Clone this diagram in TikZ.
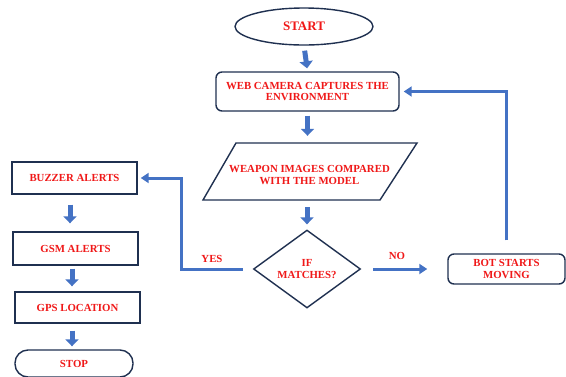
\documentclass[tikz,border=0pt]{standalone}
\usepackage{fontspec}
\setmainfont{Liberation Serif}
\usetikzlibrary{shapes.geometric,arrows.meta,calc}
\definecolor{navy}{HTML}{1F3050}
\definecolor{flow}{HTML}{4472C4}
\definecolor{txt}{HTML}{F01818}
\begin{document}
\begin{tikzpicture}[x=1pt,y=-1pt,
  base/.style={draw=navy,line width=1.4pt,text=txt,font=\fontsize{10.8}{11.5}\selectfont\bfseries,align=center,inner sep=2pt},
  rbox/.style={base,rounded corners=6pt},
  sbox/.style={base},
  blockarrow/.style={draw=flow,line width=5pt,-{Triangle[width=13pt,length=7pt]}},
  conn/.style={draw=flow,line width=3pt,-{Triangle[width=10pt,length=8pt]}},
  lab/.style={text=txt,font=\fontsize{10.8}{11.5}\selectfont\bfseries}]
\useasboundingbox (0,0) rectangle (566,376);
\fill[white] (0,0) rectangle (566,376);
% main column
\node[base,ellipse,minimum width=138pt,minimum height=37pt,font=\fontsize{13}{14}\selectfont\bfseries] (start) at (304,26.5) {START};
\node[rbox,minimum width=183pt,minimum height=39pt,inner sep=1pt] (cam) at (307.5,91.5) {WEB CAMERA CAPTURES THE\\ENVIRONMENT};
\node[text=txt,font=\fontsize{10.8}{11.5}\selectfont\bfseries,align=center,minimum width=176pt,minimum height=57pt] (cmp) at (309.5,171.5) {};
\node[text=txt,font=\fontsize{10.8}{11.5}\selectfont\bfseries,align=center] (cmptext) at (309.5,175) {WEAPON IMAGES COMPARED\\WITH THE MODEL};
\draw[navy,line width=1.4pt,line join=miter] ($(cmp.center)+(-106.5,28.5)$) -- ($(cmp.center)+(-73.5,-28.5)$) -- ($(cmp.center)+(107.5,-28.5)$) -- ($(cmp.center)+(70.5,28.5)$) -- cycle;
\node[base,diamond,minimum width=107pt,minimum height=74pt,inner sep=0pt] (dia) at (307,269) {IF\\MATCHES?};
\node[rbox,minimum width=117pt,minimum height=30pt] (bot) at (506.5,269) {BOT STARTS\\MOVING};
% left column
\node[sbox,minimum width=125pt,minimum height=32pt] (buz) at (74.5,178) {BUZZER ALERTS};
\node[sbox,minimum width=125pt,minimum height=33pt] (gsm) at (75.5,248.5) {GSM ALERTS};
\node[sbox,minimum width=125pt,minimum height=31pt] (gps) at (77.5,307.5) {GPS LOCATION};
\node[base,rounded corners=13pt,minimum width=118pt,minimum height=27pt] (stop) at (74,363.5) {STOP};
% block arrows
\draw[blockarrow,shorten <=5pt,shorten >=3pt] (start.south) -- (cam.north);
\draw[blockarrow,shorten <=4pt,shorten >=7pt] (cam.south) -- (cmp.north -| cam.south);
\draw[blockarrow,shorten <=7pt,shorten >=5pt] (cmp.south -| dia.north) -- (dia.north);
\draw[blockarrow,shorten <=10pt,shorten >=8pt] (buz.south -| 70,0) -- (gsm.north -| 70,0);
\draw[blockarrow,shorten <=3pt,shorten >=5pt] (gsm.south -| 72,0) -- (gps.north -| 72,0);
\draw[blockarrow,shorten <=7pt,shorten >=3pt] (gps.south -| 72,0) -- (stop.north -| 72,0);
% decision connectors
\draw[conn,shorten <=10pt,shorten >=3pt] (dia.west) -- ++(-71,0) |- (buz.east);
\node[lab] (yes) at (212,259) {YES};
\draw[conn,shorten <=12pt,shorten >=20pt] (dia.east) -- (bot.west);
\node[lab] (no) at (397,256) {NO};
\draw[conn,shorten <=13pt,shorten >=4pt] (bot.north) |- (cam.east);
\end{tikzpicture}
\end{document}
